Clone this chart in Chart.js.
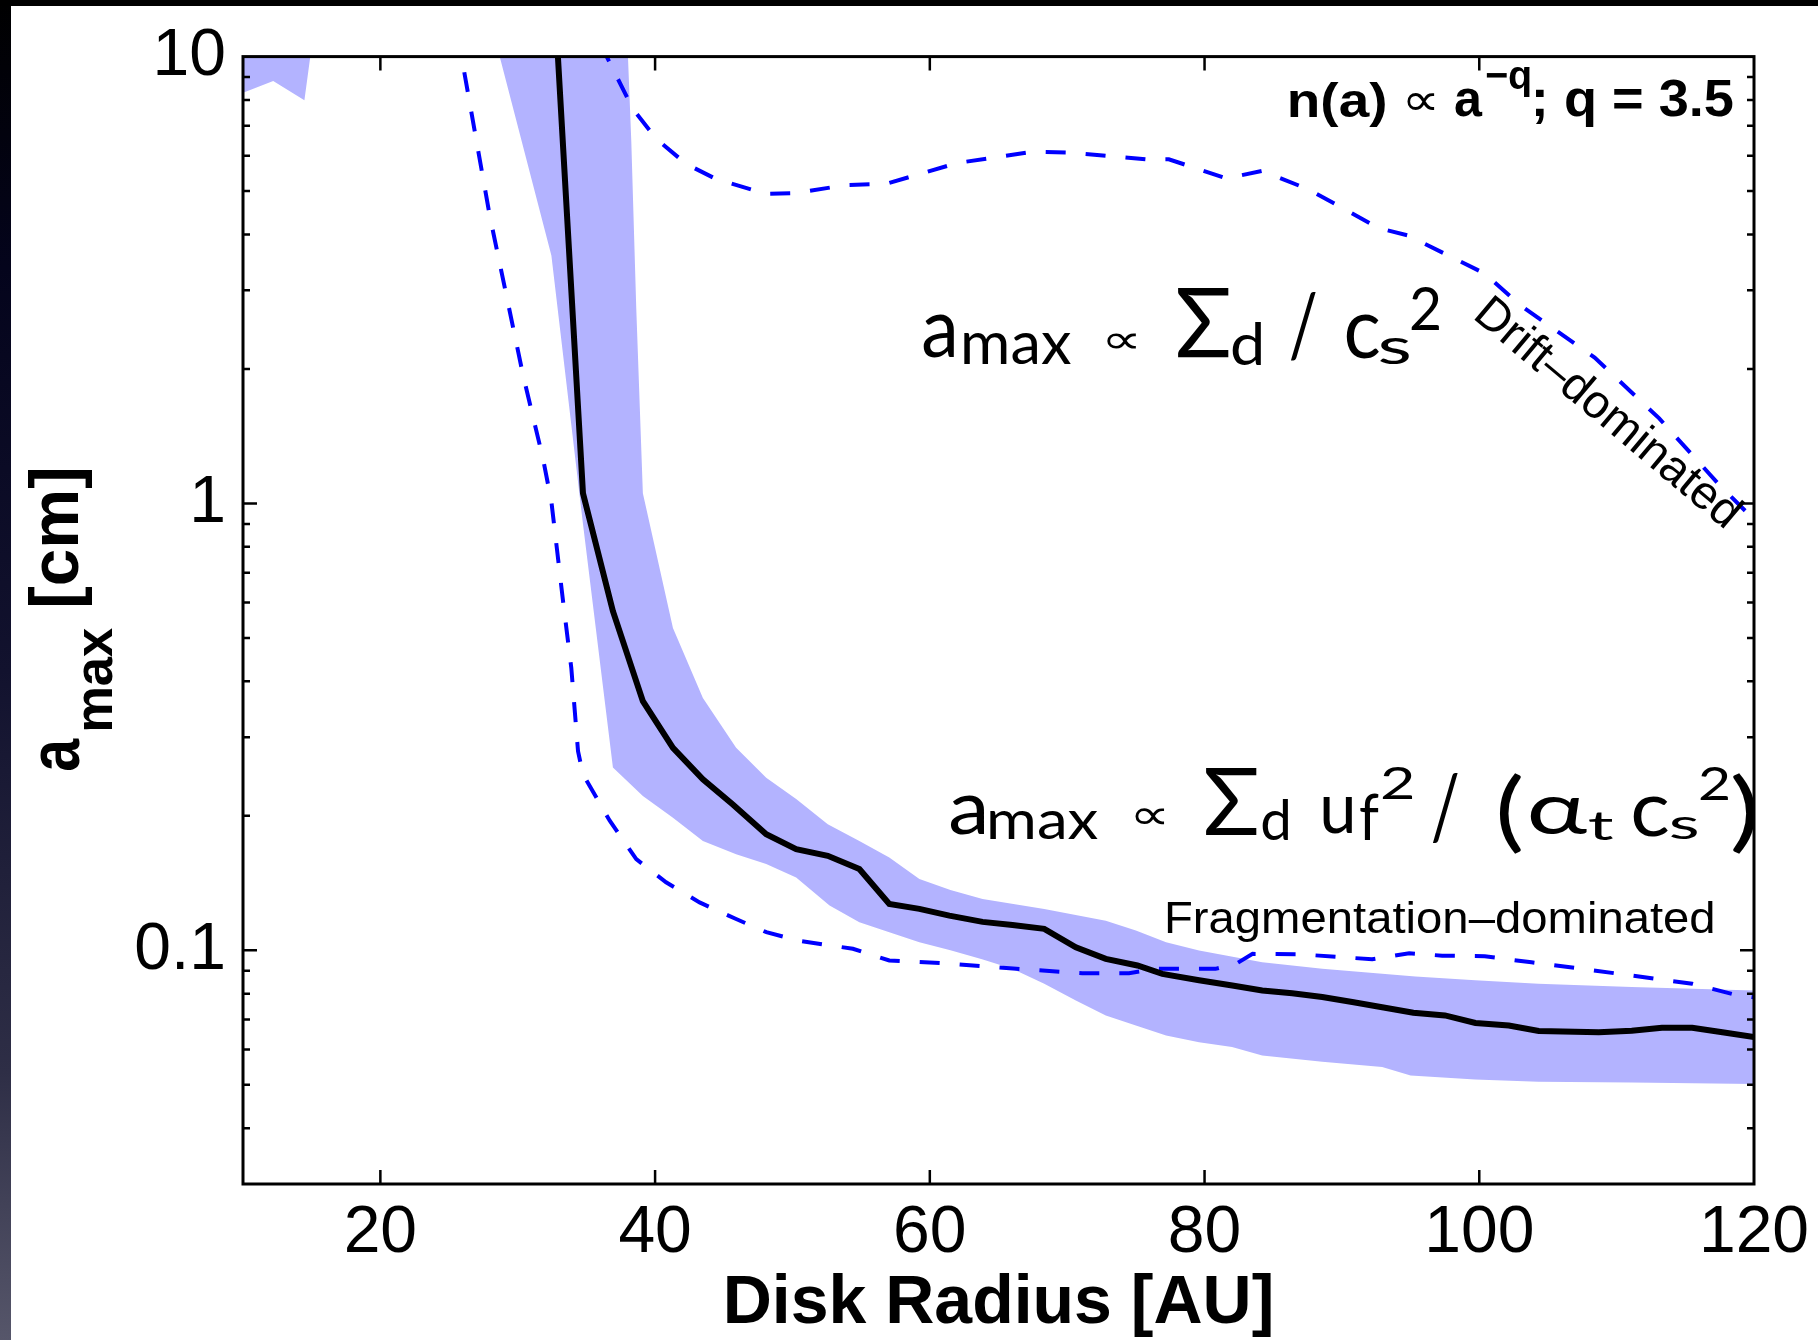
<!DOCTYPE html>
<html>
<head>
<meta charset="utf-8">
<title>a_max vs Disk Radius</title>
<script src="https://cdn.jsdelivr.net/npm/chart.js@4.4.1/dist/chart.umd.min.js"></script>
<style>
    html, body { margin: 0; padding: 0; background: #fff; }
    #chart { display: block; }
</style>
</head>
<body>
<canvas id="chart" width="1818" height="1340" style="width:1818px;height:1340px"></canvas>
<script>
// Axis ticks
const xTicks = [20, 40, 60, 80, 100, 120];
const yTicks = [0.1, 1, 10];
const yTickLabels = ['0.1', '1', '10'];

// Median a_max (black line)
const medR = [32.7, 34.75, 36.93, 39.11, 41.3, 43.48, 45.66, 48.09, 50.27, 52.57, 54.87, 57.05, 59.24, 61.42, 63.84, 66.02, 68.33, 70.63, 72.81, 75.11, 76.93, 79.6, 82.02, 84.2, 86.38, 88.57, 90.75, 92.93, 95.2, 97.5, 99.72, 102.15, 104.33, 108.7, 111.1, 113.3, 115.5, 117.7, 120];
const medA = [13.2, 1.054, 0.574, 0.361, 0.284, 0.2415, 0.212, 0.182, 0.1685, 0.1628, 0.152, 0.127, 0.1238, 0.1196, 0.1158, 0.114, 0.1117, 0.1016, 0.0957, 0.0925, 0.0886, 0.0857, 0.0834, 0.0813, 0.0802, 0.0786, 0.0766, 0.0746, 0.0725, 0.0715, 0.0688, 0.0679, 0.066, 0.0656, 0.0661, 0.0671, 0.0671, 0.0656, 0.064];

// Shaded range: lower and upper edges
const bandLoR = [27.4, 32.45, 34.75, 36.93, 39.11, 41.3, 43.48, 45.9, 48.09, 50.27, 52.7, 54.87, 57.05, 59.24, 61.5, 63.8, 66.0, 68.33, 70.63, 72.81, 75.0, 77.2, 79.6, 82.0, 84.2, 88.57, 92.93, 95.0, 99.7, 104.3, 111.1, 120];
const bandLoA = [14.2, 3.59, 0.9, 0.2565, 0.2216, 0.198, 0.1757, 0.164, 0.156, 0.1456, 0.126, 0.1155, 0.1098, 0.1042, 0.1, 0.0955, 0.0909, 0.0842, 0.0772, 0.0715, 0.0679, 0.0645, 0.0623, 0.0608, 0.0582, 0.0563, 0.0548, 0.0525, 0.0514, 0.0508, 0.0506, 0.0502];
const bandHiR = [37.83, 38.27, 38.63, 39.11, 41.3, 43.48, 45.9, 48.09, 50.27, 52.57, 54.87, 57.05, 59.24, 61.5, 63.84, 68.33, 72.81, 75.0, 77.2, 79.6, 84.2, 88.57, 92.93, 95.35, 99.7, 104.3, 111.1, 120];
const bandHiA = [14.2, 6.43, 2.73, 1.054, 0.5266, 0.367, 0.284, 0.2435, 0.218, 0.1916, 0.1757, 0.1613, 0.1444, 0.1365, 0.1303, 0.1238, 0.1165, 0.1107, 0.1042, 0.0999, 0.094, 0.0909, 0.0886, 0.0874, 0.0857, 0.0842, 0.0828, 0.0813];

// Small piece of the range at the top left corner
const capR = [9.2, 10.1, 12.2, 14.47, 14.9, 15.25, 9.0];
const capA = [8.2, 8.32, 8.82, 7.99, 10, 12, 12];

// Fragmentation limit (lower dashed)
const fragR = [25.6, 27.96, 30.39, 31.84, 32.45, 33.3, 33.9, 34.39, 34.75, 36.7, 38.63, 40.8, 43.24, 45.9, 48.1, 50.5, 54.4, 57.05, 61.4, 66.3, 71.1, 74.5, 76.45, 80.8, 82.3, 83.5, 86.9, 92.2, 94.9, 97.3, 100.4, 103.8, 107.5, 111.1, 115.5, 118.4, 120];
const fragA = [11.3, 4.41, 1.936, 1.26, 1.01, 0.604, 0.4285, 0.279, 0.2477, 0.195, 0.16, 0.142, 0.128, 0.1175, 0.1098, 0.105, 0.1008, 0.0949, 0.0934, 0.0909, 0.0889, 0.0889, 0.0909, 0.0909, 0.0933, 0.0982, 0.098, 0.0955, 0.0985, 0.0973, 0.097, 0.094, 0.0909, 0.0878, 0.0842, 0.0799, 0.0785];

// Drift limit (upper dashed)
const driftR = [36.0, 38.39, 40.09, 42.27, 44.45, 48.09, 50.27, 53.9, 56.8, 59.7, 62.0, 67.6, 70.1, 75.7, 77.4, 81.6, 84.2, 87.6, 92.7, 94.8, 100.4, 102.9, 108.4, 113.1, 117.4, 120];
const driftA = [10.7, 7.63, 6.54, 5.75, 5.32, 4.93, 4.95, 5.16, 5.19, 5.51, 5.78, 6.13, 6.1, 5.89, 5.89, 5.34, 5.55, 5.04, 4.13, 3.98, 3.27, 2.79, 2.12, 1.55, 1.107, 0.92];

function pts(xs, ys) {
    return xs.map((x, i) => ({ x: x, y: ys[i] }));
}

// polygon: lower edge left->right, upper edge right->left
const bandPoly = pts(bandLoR, bandLoA).concat(pts(bandHiR, bandHiA).reverse());

const HELV = "'Liberation Sans', Arial, Helvetica, sans-serif";
const GILL = "Lato, 'Open Sans', 'DejaVu Sans', sans-serif";
const SYM = "'DejaVu Sans', sans-serif";

// draw text so that its ink fills the box x0..x1, y0..y1
function fitText(ctx, text, font, x0, x1, y0, y1) {
    ctx.font = font;
    const m = ctx.measureText(text);
    const l = -m.actualBoundingBoxLeft, r = m.actualBoundingBoxRight;
    const t = -m.actualBoundingBoxAscent, b = m.actualBoundingBoxDescent;
    const sx = (x1 - x0) / (r - l), sy = (y1 - y0) / (b - t);
    ctx.save();
    ctx.translate(x0 - l * sx, y0 - t * sy);
    ctx.scale(sx, sy);
    ctx.fillText(text, 0, 0);
    ctx.restore();
}

const backgroundPlugin = {
    id: 'slideBackground',
    beforeDraw(chart) {
        const { ctx, width, height } = chart;
        ctx.save();
        ctx.fillStyle = '#ffffff';
        ctx.fillRect(0, 0, width, height);
        const g = ctx.createLinearGradient(0, 0, 0, height);
        g.addColorStop(0, '#000000');
        g.addColorStop(0.2, '#04041c');
        g.addColorStop(0.5, '#12122e');
        g.addColorStop(0.8, '#2e2e46');
        g.addColorStop(1, '#56566a');
        ctx.fillStyle = g;
        ctx.fillRect(0, 0, 11, height);
        ctx.fillStyle = '#000000';
        ctx.fillRect(0, 0, width, 6);
        ctx.restore();
    }
};

const framePlugin = {
    id: 'matlabFrame',
    afterDatasetsDraw(chart) {
        const { ctx, chartArea: a, scales } = chart;
        const x = scales.x, y = scales.y;
        ctx.save();
        ctx.strokeStyle = '#000';
        ctx.lineWidth = 2.5;
        ctx.beginPath();
        xTicks.forEach(v => {
            const px = x.getPixelForValue(v);
            if (px <= a.left + 1 || px >= a.right - 1) return;
            ctx.moveTo(px, a.bottom); ctx.lineTo(px, a.bottom - 14);
            ctx.moveTo(px, a.top); ctx.lineTo(px, a.top + 14);
        });
        for (let dec = -2; dec <= 1; dec++) {
            for (let m = 1; m <= 9; m++) {
                const v = m * Math.pow(10, dec);
                const py = y.getPixelForValue(v);
                if (py <= a.top + 1 || py >= a.bottom - 1) continue;
                const len = m === 1 ? 14 : 7;
                ctx.moveTo(a.left, py); ctx.lineTo(a.left + len, py);
                ctx.moveTo(a.right, py); ctx.lineTo(a.right - len, py);
            }
        }
        ctx.stroke();
        ctx.lineWidth = 3;
        ctx.strokeRect(a.left, a.top, a.right - a.left, a.bottom - a.top);

        ctx.fillStyle = '#000';
        ctx.textAlign = 'left';
        ctx.textBaseline = 'alphabetic';

        // y axis title, rotated
        ctx.save();
        ctx.rotate(-Math.PI / 2);
        fitText(ctx, 'a', 'bold 72px ' + HELV, -770, -738, 40, 80);
        fitText(ctx, 'max', 'bold 56px ' + HELV, -730, -628, 83, 113);
        fitText(ctx, '[cm]', 'bold 72px ' + HELV, -605, -470, 28, 92);
        ctx.restore();

        // size distribution note
        fitText(ctx, 'n(a)', 'bold 52px ' + HELV, 1290, 1385, 82, 127);
        fitText(ctx, '\u221D', '40px ' + SYM, 1407, 1435, 92, 110);
        fitText(ctx, 'a', 'bold 52px ' + HELV, 1455, 1483, 88, 117);
        fitText(ctx, '\u2212q', 'bold 36px ' + HELV, 1486, 1530, 66, 98);
        fitText(ctx, '; q = 3.5', 'bold 52px ' + HELV, 1535, 1733, 80, 127);

        // drift formula
        const f1 = [
            ['a', 1, 923, 954, 314, 358],
            ['max', 0.7, 964, 1071, 332, 365],
            ['\u221D', 0, 1107, 1137, 333, 349],
            ['\u03A3', 1, 1177, 1229, 289, 358],
            ['d', 0.7, 1232, 1261, 321, 365],
            ['/', 1, 1291, 1316, 292, 360],
            ['c', 1, 1346, 1379, 314, 359],
            ['s', 0.7, 1380, 1409, 337, 365],
            ['2', 0.65, 1411, 1439, 287, 330]
        ];
        // fragmentation formula
        const f2 = [
            ['a', 1, 950, 984, 796, 835],
            ['max', 0.7, 990, 1098, 810, 840],
            ['\u221D', 0, 1135, 1165, 808, 825],
            ['\u03A3', 1, 1205, 1257, 769, 835],
            ['d', 0.7, 1262, 1288, 798, 840],
            ['u', 1, 1323, 1352, 797, 834],
            ['f', 0.7, 1360, 1379, 793, 840],
            ['2', 0.65, 1382, 1412, 767, 799],
            ['/', 1, 1433, 1458, 773, 843],
            ['(', 1, 1500, 1522, 773, 855],
            ['\u03B1', 1, 1530, 1587, 798, 835],
            ['t', 0.7, 1589, 1613, 812, 841],
            ['c', 1, 1633, 1668, 797, 837],
            ['s', 0.7, 1671, 1697, 816, 840],
            ['2', 0.65, 1700, 1728, 767, 800],
            [')', 1, 1732, 1755, 773, 855]
        ];
        [f1, f2].forEach(runs => runs.forEach(r => {
            const font = r[1] === 0 ? '40px ' + SYM : Math.round(90 * r[1]) + 'px ' + GILL;
            fitText(ctx, r[0], font, r[2], r[3], r[4], r[5]);
        }));

        // regime labels
        fitText(ctx, 'Fragmentation\u2013dominated', '46px ' + HELV, 1167, 1713, 900, 943);
        ctx.save();
        ctx.translate(1607, 414);
        ctx.rotate(40 * Math.PI / 180);
        ctx.font = '47px ' + HELV;
        ctx.textAlign = 'center';
        ctx.textBaseline = 'middle';
        ctx.fillText('Drift\u2013dominated', 0, 0);
        ctx.restore();

        ctx.restore();
    }
};

const ctx = document.getElementById('chart').getContext('2d');
const chart = new Chart(ctx, {
    type: 'line',
    data: {
        datasets: [
            {
                label: 'median a_max',
                data: pts(medR, medA),
                borderColor: '#000000',
                borderWidth: 6,
                pointRadius: 0,
                fill: false
            },
            {
                label: 'fragmentation limit',
                data: pts(fragR, fragA),
                borderColor: '#0000ff',
                borderWidth: 4,
                borderDash: [20, 20],
                pointRadius: 0,
                fill: false
            },
            {
                label: 'drift limit',
                data: pts(driftR, driftA),
                borderColor: '#0000ff',
                borderWidth: 4,
                borderDash: [20, 20],
                pointRadius: 0,
                fill: false
            },
            {
                label: 'range',
                data: bandPoly,
                borderColor: 'rgba(0,0,0,0)',
                borderWidth: 0,
                backgroundColor: '#b3b3ff',
                pointRadius: 0,
                fill: 'shape'
            },
            {
                label: 'range (corner)',
                data: pts(capR, capA),
                borderColor: 'rgba(0,0,0,0)',
                borderWidth: 0,
                backgroundColor: '#b3b3ff',
                pointRadius: 0,
                fill: 'shape'
            }
        ]
    },
    options: {
        responsive: false,
        animation: false,
        devicePixelRatio: 1,
        events: [],
        layout: { padding: { left: 0, right: 64, top: 54, bottom: 0 } },
        plugins: {
            legend: { display: false },
            tooltip: { enabled: false }
        },
        scales: {
            x: {
                type: 'linear',
                min: 10,
                max: 120,
                grid: { display: false, drawTicks: false },
                border: { display: false },
                ticks: {
                    autoSkip: false,
                    maxRotation: 0,
                    padding: 4,
                    color: '#000',
                    font: { family: HELV, size: 66, lineHeight: 1.38 }
                },
                afterBuildTicks: s => { s.ticks = xTicks.map(v => ({ value: v })); },
                afterFit: s => { s.height = 156; },
                title: {
                    display: true,
                    text: 'Disk Radius [AU]',
                    color: '#000',
                    padding: { top: 0, bottom: 2 },
                    font: { family: HELV, size: 68, weight: 'bold', lineHeight: 1.0 }
                }
            },
            y: {
                type: 'logarithmic',
                min: 0.03,
                max: 10,
                grid: { display: false, drawTicks: false },
                border: { display: false },
                ticks: {
                    autoSkip: false,
                    padding: 17,
                    color: '#000',
                    font: { family: HELV, size: 66 },
                    callback: v => {
                        const i = yTicks.findIndex(t => Math.abs(t - v) < 1e-9);
                        return i >= 0 ? yTickLabels[i] : '';
                    }
                },
                afterBuildTicks: s => { s.ticks = yTicks.map(v => ({ value: v })); },
                afterFit: s => { s.width = 243; }
            }
        }
    },
    plugins: [backgroundPlugin, framePlugin]
});
</script>
</body>
</html>
